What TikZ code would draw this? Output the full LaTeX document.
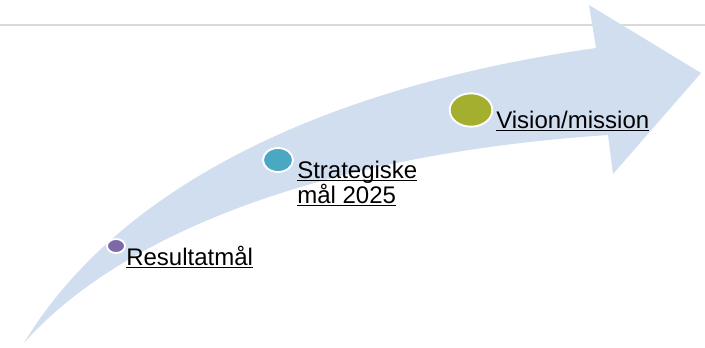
\documentclass[tikz,border=0pt]{standalone}
\usepackage{fontspec}
\setmainfont{Liberation Sans}
\usetikzlibrary{shapes.geometric}
\definecolor{arrowblue}{HTML}{D0DEEF}
\definecolor{rulegray}{HTML}{D9D9D9}
\definecolor{resviolet}{HTML}{7F68A8}
\definecolor{stratteal}{HTML}{4BA8C2}
\definecolor{visolive}{HTML}{A5AF2F}
\newcommand{\ulword}[1]{\setbox0\hbox{#1}\rlap{\rule[-2.6pt]{\wd0}{1.2pt}}\box0}
\tikzset{
  dot/.style={draw=white, line width=1.4pt, ellipse, inner sep=0pt},
  goal/.style={anchor=base west, inner sep=0pt, align=left,
    font=\fontsize{18}{18.75}\selectfont}
}
\begin{document}
\begin{tikzpicture}[x=0.75pt,y=-0.75pt]
\useasboundingbox (0,0) rectangle (705,347);
\path[draw=rulegray,line width=1.5pt] (0,25) -- (705,25);

\path[fill=arrowblue] (24,343) .. controls (110,200) and (300,90) .. (596,48)
  -- (589,5) -- (701,73) -- (613,174) -- (608,135)
  .. controls (310,155) and (115,240) .. (24,343) -- cycle;

\node[dot,fill=resviolet,minimum width=13.5pt,minimum height=10.5pt] (resdot) at (116,246) {};
\node[dot,fill=stratteal,minimum width=22.5pt,minimum height=18pt] (stratdot) at (278,160) {};
\node[dot,fill=visolive,minimum width=32pt,minimum height=25pt] (visdot) at (471,110) {};

\node[goal] (res) at (126,265) {\ulword{Resultatmål}};
\node[goal] (strat) at (297,203) {\ulword{Strategiske}\\\ulword{mål 2025}};
\node[goal] (vis) at (496,128) {\ulword{Vision/mission}};
\end{tikzpicture}
\end{document}
